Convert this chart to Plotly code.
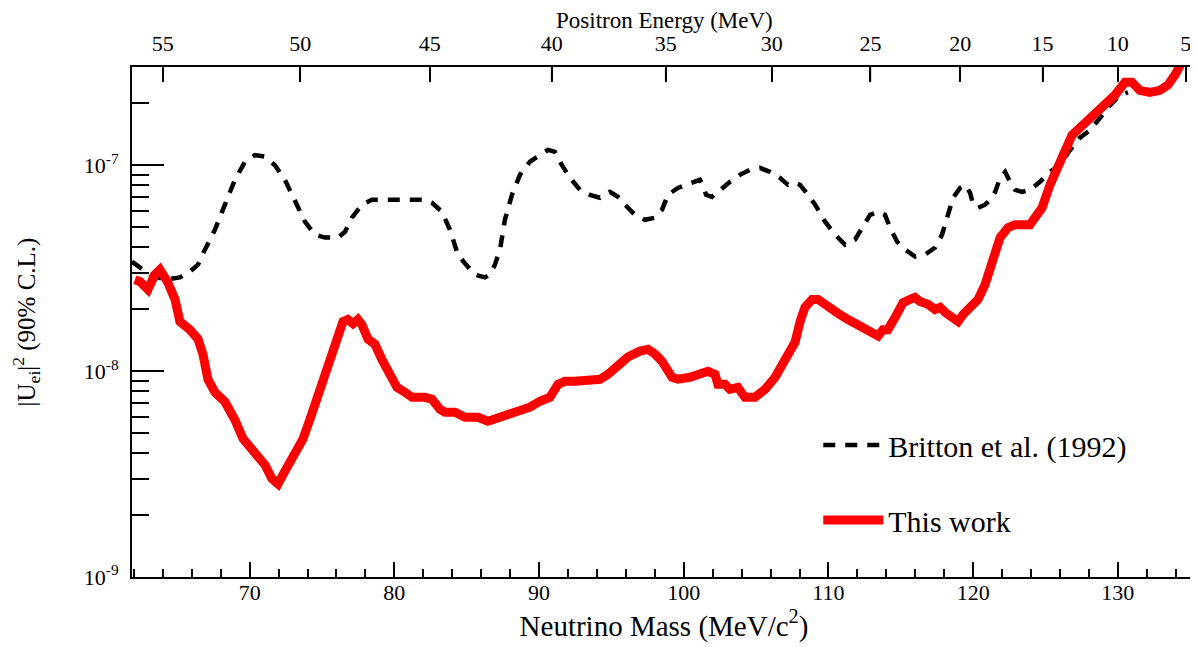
import plotly.graph_objects as go

# ---- Data ----
# This work: neutrino mass (MeV/c^2) and |U_ei|^2 limit (in units of 1e-9)
this_mass = [62.07, 62.42, 62.97, 63.45, 63.80, 64.35, 64.84, 65.18, 65.87, 66.43,
             66.77, 67.12, 67.60, 68.29, 68.98, 69.54, 70.37, 71.06, 71.54, 71.96,
             72.44, 73.13, 73.68, 74.17, 74.72, 75.20, 75.55, 76.10, 76.45, 76.79,
             77.14, 77.48, 77.76, 78.18, 78.66, 79.14, 79.70, 80.18, 80.73, 81.22,
             82.11, 82.60, 83.15, 83.50, 84.19, 84.88, 85.78, 86.47, 87.30, 87.99,
             88.68, 89.37, 90.06, 90.75, 91.31, 91.79, 92.48, 93.52, 94.21, 94.76,
             95.45, 96.14, 96.97, 97.53, 98.01, 98.50, 99.19, 99.60, 100.43, 101.12,
             101.67, 102.16, 102.36, 102.85, 103.19, 103.74, 104.23, 104.92, 105.62, 106.31,
             107.00, 107.35, 107.69, 108.04, 108.38, 108.87, 109.28, 109.77, 110.46, 110.80,
             111.36, 112.05, 112.74, 113.43, 113.77, 114.11, 114.60, 115.15, 115.64, 115.98,
             116.33, 116.88, 117.37, 117.71, 118.06, 118.54, 118.96, 119.30, 119.79, 120.34,
             120.82, 121.30, 121.86, 122.41, 122.89, 123.38, 123.93, 124.27, 124.76, 125.31,
             125.86, 126.35, 126.83, 127.38, 127.94, 128.42, 129.11, 129.80, 130.49, 130.97,
             131.52, 132.21, 132.91, 133.46, 133.94, 134.42]
this_limit_e9 = [27.8, 27.2, 24.9, 29.4, 31.1, 26.9, 22.3, 17.4, 15.9, 14.3,
                 12.1, 9.1, 7.9, 7.1, 5.8, 4.7, 4.0, 3.5, 3.0, 2.83,
                 3.27, 3.96, 4.67, 5.84, 7.72, 9.65, 11.7, 15.1, 17.4, 17.8,
                 17.0, 17.8, 16.8, 14.3, 13.5, 11.4, 9.65, 8.34, 7.9, 7.46,
                 7.46, 7.30, 6.53, 6.32, 6.32, 5.97, 5.97, 5.71, 5.97, 6.18,
                 6.32, 6.68, 7.14, 7.46, 8.63, 8.92, 8.92, 8.92, 9.13, 9.65,
                 10.8, 11.7, 12.5, 12.75, 12.1, 11.15, 9.33, 9.13, 9.33, 9.65,
                 9.98, 9.65, 8.63, 8.63, 8.16, 8.34, 7.46, 7.46, 8.16, 9.33,
                 11.4, 12.75, 13.8, 17.4, 20.4, 22.3, 22.3, 21.1, 19.9, 18.8,
                 17.8, 16.8, 15.6, 14.8, 15.9, 15.9, 18.2, 21.5, 22.3, 22.8,
                 21.8, 21.1, 19.9, 20.4, 19.3, 18.2, 17.4, 18.8, 20.6, 22.3,
                 26.3, 34.0, 44.5, 49.7, 51.4, 51.4, 51.4, 55.6, 62.1, 80.3,
                 100, 118.6, 140, 152, 166, 175, 200, 219, 253, 253,
                 231, 226, 231, 245, 274, 316]

# Britton et al. (1992)
britton_mass = [61.87, 62.42, 63.11, 64.14, 65.18, 65.87, 66.43, 66.91, 67.60, 68.29,
                68.98, 69.68, 70.37, 71.06, 71.75, 72.44, 73.13, 73.82, 74.51, 75.20,
                76.10, 76.59, 77.07, 77.76, 78.45, 79.35, 80.39, 81.42, 82.11, 82.60,
                83.29, 83.84, 84.39, 84.95, 85.57, 86.26, 86.61, 86.95, 87.30, 87.64,
                88.13, 88.68, 89.37, 90.06, 90.62, 91.10, 91.58, 92.14, 92.83, 93.52,
                94.21, 94.90, 95.45, 95.94, 96.63, 97.32, 98.01, 98.50, 98.91, 99.60,
                100.43, 101.12, 101.33, 101.54, 101.95, 102.51, 103.19, 103.88, 104.57, 105.27,
                105.96, 106.65, 107.20, 107.69, 108.04, 108.59, 109.08, 109.77, 110.46, 111.15,
                111.84, 112.33, 112.88, 113.43, 113.91, 114.26, 114.75, 115.30, 115.99, 116.68,
                117.37, 117.85, 118.27, 118.61, 119.10, 119.44, 119.79, 120.00, 120.34, 120.82,
                121.17, 121.52, 121.86, 122.21, 122.55, 122.90, 123.38, 123.93, 124.62, 125.31,
                126.00, 126.69, 127.38, 128.08, 128.77, 129.46, 130.15, 130.70]
britton_limit_e9 = [34.0, 31.8, 29.4, 27.8, 28.5, 30.4, 32.9, 38.9, 48.6, 64.3,
                    84.9, 104, 112, 110, 100, 84.9, 67.9, 53.2, 46.0, 44.5,
                    44.5, 47.5, 55.6, 64.3, 67.9, 67.9, 67.9, 67.9, 67.9, 65.7,
                    59.4, 48.6, 36.8, 32.9, 29.4, 28.5, 29.4, 32.9, 38.9, 54.3,
                    71.8, 89.8, 104, 112, 118.6, 116, 100, 86.8, 75.9, 71.8,
                    69.5, 74.2, 70.2, 64.3, 57.4, 54.3, 55.6, 60.8, 71.8, 77.6,
                    82.1, 84.9, 80.3, 71.8, 70.2, 75.9, 83.0, 89.8, 94.9, 97.0,
                    92.8, 86.8, 80.3, 82.1, 80.3, 71.8, 64.3, 53.2, 46.0, 41.1,
                    43.5, 49.7, 57.4, 59.4, 57.4, 49.7, 42.5, 38.9, 36.0, 36.8,
                    39.8, 46.0, 57.4, 69.5, 77.6, 80.3, 73.4, 64.3, 62.1, 64.3,
                    67.9, 74.2, 86.8, 92.8, 83.0, 75.9, 74.2, 75.9, 83.0, 92.8,
                    100, 118.6, 136, 148, 170, 196, 219, 226]

this_limit = [v * 1e-9 for v in this_limit_e9]
britton_limit = [v * 1e-9 for v in britton_limit_e9]

# Axis ticks
mass_major_ticks = [70, 80, 90, 100, 110, 120, 130]
mass_minor_ticks = [62, 64, 66, 68, 72, 74, 76, 78, 82, 84, 86, 88, 92, 94, 96, 98,
                    102, 104, 106, 108, 112, 114, 116, 118, 122, 124, 126, 128, 132, 134]
positron_labels = ["55", "50", "45", "40", "35", "30", "25", "20", "15", "10", "5"]
positron_tick_mass = [64.0, 73.5, 82.45, 90.87, 98.75, 106.08, 112.9, 119.1, 124.8, 130.0, 134.7]
y_major_vals = [1e-9, 1e-8, 1e-7]
y_major_text = ["10<sup>-9</sup>", "10<sup>-8</sup>", "10<sup>-7</sup>"]
y_minor_vals = [k * 10.0 ** e for e in (-9, -8, -7) for k in range(2, 10) if k * 10.0 ** e < 3.05e-7]

x_range = [61.87, 135.4]
y_range_log = [-9, -6.523]

FONT = "Liberation Serif"
PLOT_H = 510          # plot-area height in px (639 - 59 - 70)
TOP_TICK_LEN = 15     # px

fig = go.Figure()
fig.add_trace(go.Scatter(
    x=britton_mass, y=britton_limit, mode="lines", name="Britton et al. (1992)",
    line=dict(color="black", width=4.5, dash="12px,10px"), legend="legend"))
fig.add_trace(go.Scatter(
    x=this_mass, y=this_limit, mode="lines", name="This work",
    line=dict(color="#ff0000", width=9), legend="legend2"))
# invisible trace so the top (positron energy) axis is drawn
fig.add_trace(go.Scatter(
    x=[None], y=[None], xaxis="x2", yaxis="y", mode="lines",
    showlegend=False, hoverinfo="skip"))

# inward tick marks of the top axis, placed at the positron-energy tick positions
top_tick_shapes = [dict(type="line", xref="x", yref="paper", x0=m, x1=m,
                        y0=1, y1=1 - TOP_TICK_LEN / PLOT_H,
                        line=dict(color="black", width=1.5), layer="above")
                   for m in positron_tick_mass]

# the page body has an 8px default margin, so the figure is 16px smaller
fig.update_layout(
    width=1190, height=639,
    margin=dict(l=124, r=2, t=59, b=70),
    paper_bgcolor="white", plot_bgcolor="rgba(0,0,0,0)",
    font=dict(family=FONT, color="black", size=22),
    xaxis=dict(
        domain=[0, 1], range=x_range, showgrid=False, zeroline=False, automargin=False,
        showline=True, linecolor="black", linewidth=2,
        tickvals=mass_major_ticks, ticks="inside", ticklen=15, tickwidth=1.5, tickcolor="black",
        minor=dict(tickvals=mass_minor_ticks, ticks="inside", ticklen=8, tickwidth=1.5, tickcolor="black"),
        tickfont=dict(family=FONT, size=22), ticklabelstandoff=-5,
        title=dict(text="Neutrino Mass (MeV/c<sup>2</sup>)", font=dict(family=FONT, size=29), standoff=2),
    ),
    xaxis2=dict(
        domain=[0, 1], side="top", anchor="y", range=x_range, automargin=False,
        showgrid=False, zeroline=False, showline=True, linecolor="black", linewidth=2,
        tickvals=positron_tick_mass, ticktext=positron_labels,
        ticks="inside", ticklen=TOP_TICK_LEN, tickwidth=1.5, tickcolor="black",
        tickfont=dict(family=FONT, size=22), ticklabelstandoff=5,
    ),
    yaxis=dict(
        type="log", range=y_range_log, showgrid=False, zeroline=False, automargin=False,
        showline=True, linecolor="black", linewidth=2, mirror=True,
        tickvals=y_major_vals, ticktext=y_major_text,
        ticks="inside", ticklen=32, tickwidth=1.5, tickcolor="black",
        minor=dict(tickvals=y_minor_vals, ticks="inside", ticklen=17, tickwidth=1.5, tickcolor="black"),
        tickfont=dict(family=FONT, size=22), ticklabelstandoff=7,
        title=dict(text="|U<sub>ei</sub>|<sup>2</sup> (90% C.L.)", font=dict(family=FONT, size=25), standoff=48),
    ),
    shapes=top_tick_shapes,
    annotations=[dict(
        text="Positron Energy (MeV)", xref="paper", yref="paper", x=0.5, y=1.092,
        xanchor="center", yanchor="middle", showarrow=False,
        font=dict(family=FONT, size=23, color="black"))],
    legend=dict(x=0.645, y=0.259, xanchor="left", yanchor="middle", itemwidth=60,
                bgcolor="rgba(0,0,0,0)", font=dict(family=FONT, size=30)),
    legend2=dict(x=0.645, y=0.112, xanchor="left", yanchor="middle", itemwidth=60,
                 bgcolor="rgba(0,0,0,0)", font=dict(family=FONT, size=30)),
    showlegend=True,
)

fig.write_html("out.html")
